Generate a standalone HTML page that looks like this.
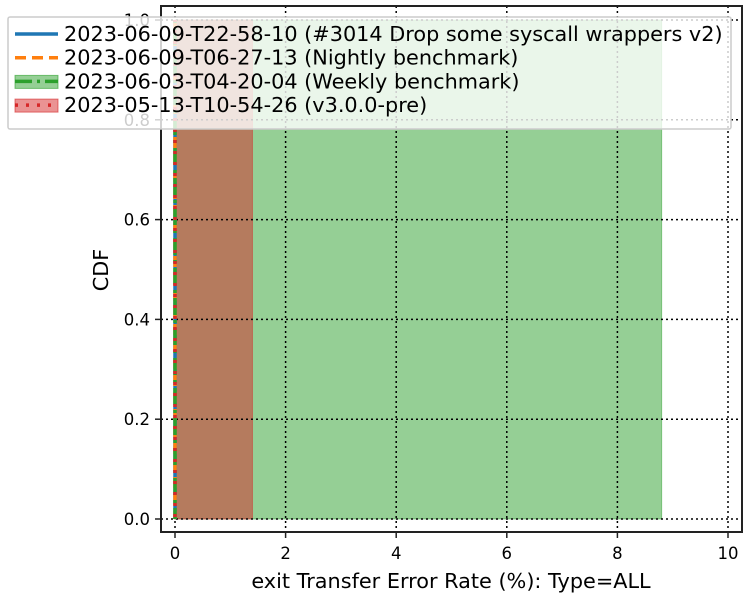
<!DOCTYPE html>
<html><head><meta charset="utf-8"><style>body{margin:0;background:#fff}svg{display:block;font-family:"DejaVu Sans","Liberation Sans",sans-serif}</style></head>
<body>
<svg width="750" height="600" viewBox="0 0 750 600" xmlns="http://www.w3.org/2000/svg">
<g id="plot"></g>
<script>
const xTicks=[0,2,4,6,8,10];
const yTicks=[0,0.2,0.4,0.6,0.8,1.0];
const seriesNames=["2023-06-09-T22-58-10 (#3014 Drop some syscall wrappers v2)","2023-06-09-T06-27-13 (Nightly benchmark)","2023-06-03-T04-20-04 (Weekly benchmark)","2023-05-13-T10-54-26 (v3.0.0-pre)"];
const seriesMax=[0,0,8.8,1.4];
const seriesMin=[0,0,0,0];
const colors=["#1f77b4","#ff7f0e","#2ca02c","#d62728"];
const X0=161,X1=742,Y0=6,Y1=532;
const sx=v=>175+v*55.3;
const sy=v=>519-v*499;
const NS="http://www.w3.org/2000/svg";
const g=document.getElementById('plot');
function mk(t,a,p){const e=document.createElementNS(NS,t);for(const k in a)e.setAttribute(k,a[k]);(p||g).appendChild(e);return e;}
[2,3].forEach(i=>{
 const r=mk('rect',{x:sx(seriesMin[i]),y:sy(1),width:sx(seriesMax[i])-sx(seriesMin[i]),height:sy(0)-sy(1),fill:colors[i],'fill-opacity':0.5,stroke:colors[i],'stroke-opacity':0.5});
 
 
});
xTicks.forEach(v=>{const l=mk('line',{x1:sx(v),x2:sx(v),y1:Y0,y2:Y1,stroke:'#000','stroke-width':1.5,'stroke-dasharray':'2,3'});
 });
yTicks.forEach(v=>{const l=mk('line',{x1:X0,x2:X1,y1:sy(v),y2:sy(v),stroke:'#000','stroke-width':1.5,'stroke-dasharray':'2,3'});
 });
const dashes=["none","11,6","17,5,3,5","3,8"];
[0,1,2,3].forEach(i=>{const l=mk('line',{x1:sx(seriesMin[i]),x2:sx(seriesMin[i]),y1:sy(0),y2:sy(1),stroke:colors[i],'stroke-width':3.5,'stroke-dasharray':dashes[i],'stroke-dashoffset':i*3});
 });
const fr=mk('rect',{x:X0,y:Y0,width:X1-X0,height:Y1-Y0,fill:'none',stroke:'#222','stroke-width':2});

xTicks.forEach(v=>{mk('line',{x1:sx(v),x2:sx(v),y1:Y1,y2:Y1+6,stroke:'#222','stroke-width':1.5});
 const t=mk('text',{x:sx(v),y:Y1+27,'text-anchor':'middle','font-size':16.5});t.textContent=v;
 });
yTicks.forEach(v=>{mk('line',{x1:X0-6,x2:X0,y1:sy(v),y2:sy(v),stroke:'#222','stroke-width':1.5});
 const t=mk('text',{x:X0-11,y:sy(v)+6,'text-anchor':'end','font-size':16.5});t.textContent=v.toFixed(1);
 });
const xt=mk('text',{x:451,y:588,'text-anchor':'middle','font-size':20.8});xt.textContent='exit Transfer Error Rate (%): Type=ALL';

const yt=mk('text',{x:108,y:270,'text-anchor':'middle','font-size':20.8,transform:'rotate(-90 108 270)'});yt.textContent='CDF';

const lg=mk('g',{});
mk('rect',{x:8,y:17,width:723,height:112,fill:'#fff','fill-opacity':0.8,stroke:'#ccc','stroke-width':1.5,rx:2},lg);
seriesNames.forEach((n,i)=>{
 const y=34+i*23.7;
 if(i>=2) mk('rect',{x:15,y:y-6,width:43,height:13,fill:colors[i],'fill-opacity':0.5,stroke:colors[i],'stroke-opacity':0.6},lg);
 mk('line',{x1:15,x2:58,y1:y,y2:y,stroke:colors[i],'stroke-width':3.5,'stroke-dasharray':dashes[i]},lg);
 const t=mk('text',{x:64,y:y+7,'font-size':20.8},lg);t.textContent=n;
 
});
</script>
</svg>
</body></html>
